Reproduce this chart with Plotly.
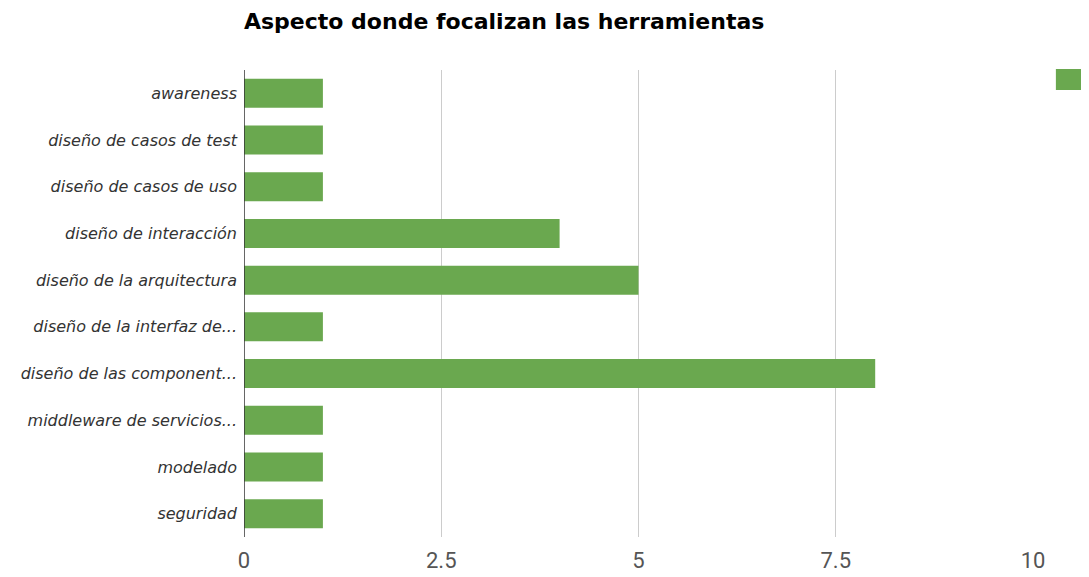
import plotly.graph_objects as go

categories = [
    "awareness",
    "diseño de casos de test",
    "diseño de casos de uso",
    "diseño de interacción",
    "diseño de la arquitectura",
    "diseño de la interfaz de...",
    "diseño de las component...",
    "middleware de servicios...",
    "modelado",
    "seguridad",
]
values = [1, 1, 1, 4, 5, 1, 8, 1, 1, 1]
x_ticks = [0, 2.5, 5, 7.5, 10]
x_tick_labels = ["0", "2.5", "5", "7.5", "10"]

GREEN = "#6aa84f"

fig = go.Figure(
    go.Bar(
        x=values,
        y=categories,
        orientation="h",
        marker=dict(color=GREEN, line=dict(width=0)),
        showlegend=False,
        hoverinfo="x+y",
    )
)

# page body has an 8px margin, margins below compensate for it
fig.update_layout(
    width=1089,
    height=577,
    margin=dict(l=236, r=64, t=62, b=48),
    paper_bgcolor="white",
    plot_bgcolor="white",
    bargap=0.38,
    title=dict(
        text="<b>Aspecto donde focalizan las herramientas</b>",
        font=dict(family="DejaVu Sans", size=22, color="#000"),
        x=0.0,
        xref="paper",
        xanchor="left",
        y=0.977,
        yref="container",
        yanchor="middle",
    ),
    xaxis=dict(
        range=[0, 10],
        tickvals=x_ticks,
        ticktext=x_tick_labels,
        showgrid=True,
        gridcolor="#cccccc",
        gridwidth=1,
        zeroline=False,
        showline=False,
        ticks="",
        tickfont=dict(family="Roboto", size=22, color="#555"),
        ticklabelstandoff=8,
    ),
    yaxis=dict(
        autorange="reversed",
        showgrid=False,
        zeroline=False,
        showline=False,
        ticks="",
        tickfont=dict(family="DejaVu Sans", size=16, color="#333", style="italic"),
        ticklabelstandoff=6,
    ),
    shapes=[
        dict(type="line", xref="x", yref="paper", x0=0, x1=0, y0=0, y1=1,
             line=dict(color="#333333", width=1.5)),
        dict(type="rect", xref="paper", yref="paper", x0=1.029, x1=1.08,
             y0=0.957, y1=1.002, fillcolor=GREEN, line=dict(width=0)),
    ],
)

fig.write_html("out.html")
